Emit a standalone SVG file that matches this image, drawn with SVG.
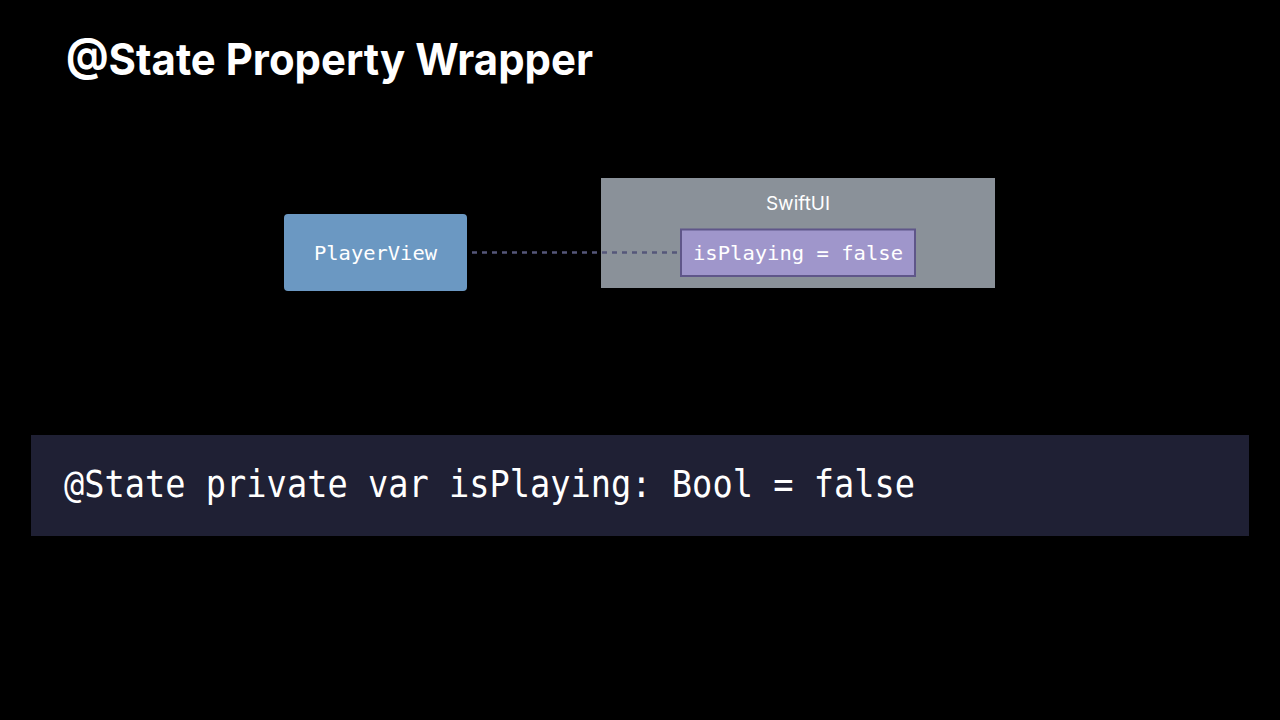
<svg xmlns="http://www.w3.org/2000/svg" width="1280" height="720" viewBox="0 0 1280 720">
<style>
.mono{font-family:"DejaVu Sans Mono","Liberation Mono",monospace;fill:#ffffff}
.sans{font-family:Inter,"Liberation Sans",sans-serif;fill:#ffffff}
</style>
<rect width="1280" height="720" fill="#000000"/>
<text class="sans" x="66" y="75" font-size="44" font-weight="700" textLength="527" lengthAdjust="spacingAndGlyphs">@State Property Wrapper</text>
<g id="swiftui">
<rect x="601" y="178" width="394" height="110" fill="#8a9199"/>
<text class="sans" x="798" y="210" font-size="19" text-anchor="middle">SwiftUI</text>
</g>
<g id="connectors">
<line x1="472" y1="252.5" x2="681" y2="252.5" stroke="#55577a" stroke-width="2.5" stroke-dasharray="5 5"/>
</g>
<g id="playerview">
<rect x="284" y="214" width="183" height="77" rx="4" fill="#6b98c2"/>
<text class="mono" x="375.5" y="260" font-size="20" text-anchor="middle" textLength="123" lengthAdjust="spacingAndGlyphs">PlayerView</text>
</g>
<g id="isplaying">
<rect x="681" y="229.5" width="234" height="46.5" fill="#9f96cb" stroke="#5f5689" stroke-width="2"/>
<text class="mono" x="798" y="260" font-size="20" text-anchor="middle" textLength="210" lengthAdjust="spacingAndGlyphs">isPlaying = false</text>
</g>
<g id="code">
<rect x="31" y="435" width="1218" height="101" fill="#1f2034"/>
<text class="mono" x="64" y="497" font-size="37" textLength="851" lengthAdjust="spacingAndGlyphs">@State private var isPlaying: Bool = false</text>
</g>
</svg>
